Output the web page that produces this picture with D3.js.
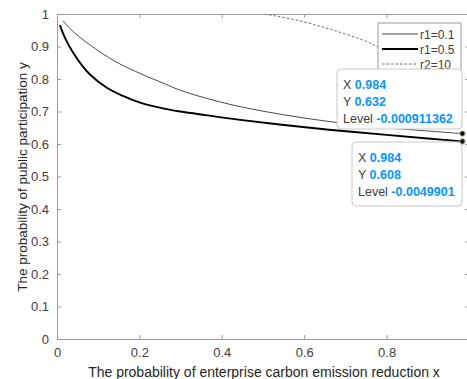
<!DOCTYPE html>
<html>
<head>
<meta charset="utf-8">
<script src="https://cdnjs.cloudflare.com/ajax/libs/d3/7.8.5/d3.min.js"></script>
<style>
	body { margin: 0; background: #fff; }
	text { font-family: "Liberation Sans", Arial, sans-serif; }
</style>
</head>
<body>
<div id="chart"></div>
<script>
'use strict';

// r1 = 0.1 (thin line)
var xR1a = [0.014, 0.04, 0.08, 0.14, 0.2, 0.26, 0.3, 0.4, 0.5, 0.6, 0.7, 0.8, 0.9, 0.984];
var yR1a = [0.979, 0.945, 0.905, 0.855, 0.818, 0.786, 0.765, 0.728, 0.701, 0.68, 0.663, 0.65, 0.64, 0.632];
// r1 = 0.5 (thick line)
var xR1b = [0.007, 0.02, 0.04, 0.06, 0.08, 0.12, 0.16, 0.2, 0.26, 0.3, 0.36, 0.44, 0.54, 0.66, 0.8, 0.9, 0.984];
var yR1b = [0.966, 0.925, 0.879, 0.843, 0.814, 0.774, 0.748, 0.728, 0.709, 0.7, 0.689, 0.675, 0.66, 0.644, 0.628, 0.617, 0.608];
// r2 = 10 (dashed)
var xR2 = [0.504, 0.589, 0.669, 0.752, 0.778, 0.85, 0.92];
var yR2 = [1.0, 0.979, 0.951, 0.915, 0.899, 0.86, 0.82];

var legendLabels = ['r1=0.1', 'r1=0.5', 'r2=10'];
var xTicks = [0, 0.2, 0.4, 0.6, 0.8];
var yTicks = [0, 0.1, 0.2, 0.3, 0.4, 0.5, 0.6, 0.7, 0.8, 0.9, 1];

// data tips: [x, y, level]
var tips = [
	{ x: 0.984, y: 0.632, level: '-0.000911362' },
	{ x: 0.984, y: 0.608, level: '-0.0049901' }
];

var W = 467, H = 379;
var margin = {top: 14, left: 57};
var pw = 412, ph = 325;
var axisCol = '#9a9a9a';
var textCol = '#404040';
var blue = '#0a94ff';

var svg = d3.select('#chart').append('svg')
	.attr('width', W)
	.attr('height', H);

var x = d3.scaleLinear().domain([0, 1]).range([0, pw]);
var y = d3.scaleLinear().domain([0, 1]).range([ph, 0]);

var g = svg.append('g')
	.attr('transform', 'translate(' + margin.left + ',' + margin.top + ')');

g.append('clipPath')
	.attr('id', 'plotClip')
	.append('rect')
	.attr('width', pw)
	.attr('height', ph);

// axes (box with inward ticks)
function styleAxis(sel, hideText){
	sel.select('.domain').attr('stroke', axisCol);
	sel.selectAll('.tick line').attr('stroke', axisCol);
	sel.selectAll('.tick text')
		.attr('fill', textCol)
		.style('font-size', '13px');
	if (hideText) sel.selectAll('.tick text').remove();
}

g.append('g')
	.attr('transform', 'translate(0,' + ph + ')')
	.call(d3.axisBottom(x).tickValues(xTicks).tickSizeInner(-4).tickSizeOuter(0).tickPadding(9).tickFormat(d3.format('~g')))
	.call(styleAxis);

g.append('g')
	.call(d3.axisTop(x).tickValues(xTicks).tickSizeInner(-4).tickSizeOuter(0))
	.call(styleAxis, true);

g.append('g')
	.call(d3.axisLeft(y).tickValues(yTicks).tickSizeInner(-4).tickSizeOuter(0).tickPadding(8).tickFormat(d3.format('~g')))
	.call(styleAxis);

g.append('g')
	.attr('transform', 'translate(' + pw + ',0)')
	.call(d3.axisRight(y).tickValues(yTicks).tickSizeInner(-4).tickSizeOuter(0))
	.call(styleAxis, true);

// axis labels
svg.append('text')
	.attr('x', 264)
	.attr('y', 377)
	.attr('text-anchor', 'middle')
	.attr('fill', '#262626')
	.style('font-size', '14px')
	.text('The probability of enterprise carbon emission reduction x');

svg.append('text')
	.attr('transform', 'translate(27,' + 177 + ') rotate(-90)')
	.attr('text-anchor', 'middle')
	.attr('fill', '#262626')
	.style('font-size', '13.5px')
	.text('The probability of public participation y');

// curves
var line = d3.line()
	.x(function(d){ return x(d[0]); })
	.y(function(d){ return y(d[1]); })
	.curve(d3.curveCatmullRom.alpha(0.5));

var series = [
	{ pts: d3.zip(xR1a, yR1a), stroke: '#4a4a4a', width: 1, dash: null },
	{ pts: d3.zip(xR1b, yR1b), stroke: '#000', width: 1.9, dash: null },
	{ pts: d3.zip(xR2, yR2), stroke: '#6a6a6a', width: 1, dash: '2.5,2' }
];

var plot = g.append('g').attr('clip-path', 'url(#plotClip)');

plot.selectAll('path.curve')
	.data(series)
	.enter()
	.append('path')
		.attr('class', 'curve')
		.attr('fill', 'none')
		.attr('stroke', function(d){ return d.stroke; })
		.attr('stroke-width', function(d){ return d.width; })
		.attr('stroke-dasharray', function(d){ return d.dash; })
		.attr('d', function(d){ return line(d.pts); });

// legend
var lg = svg.append('g').attr('transform', 'translate(378,23)');
lg.append('rect')
	.attr('width', 83)
	.attr('height', 50)
	.attr('fill', '#fff')
	.attr('stroke', axisCol)
	.attr('stroke-width', 1);

var items = lg.selectAll('g.item')
	.data(series)
	.enter()
	.append('g')
		.attr('class', 'item')
		.attr('transform', function(d, i){ return 'translate(0,' + (11 + i*15) + ')'; });

items.append('line')
	.attr('x1', 4)
	.attr('x2', 40)
	.attr('stroke', function(d){ return d.stroke; })
	.attr('stroke-width', function(d){ return d.width; })
	.attr('stroke-dasharray', function(d){ return d.dash; });

items.append('text')
	.attr('x', 42)
	.attr('y', 4.5)
	.attr('fill', textCol)
	.style('font-size', '12px')
	.text(function(d, i){ return legendLabels[i]; });

// data tip boxes
var boxes = [
	{ x: 337, y: 69, w: 125, h: 60 },
	{ x: 352, y: 142, w: 110, h: 64 }
];

tips.forEach(function(t, i){
	var b = boxes[i];
	var tg = svg.append('g').attr('transform', 'translate(' + b.x + ',' + b.y + ')');
	tg.append('rect')
		.attr('width', b.w)
		.attr('height', b.h)
		.attr('rx', 4)
		.attr('fill', '#fff')
		.attr('fill-opacity', 0.96)
		.attr('stroke', '#c8c8c8');
	var rows = [['X', d3.format('.3f')(t.x)], ['Y', d3.format('.3f')(t.y)], ['Level', t.level]];
	rows.forEach(function(r, k){
		var txt = tg.append('text')
			.attr('x', 6)
			.attr('y', 20 + k*17)
			.style('font-size', '12.5px');
		txt.append('tspan').attr('fill', textCol).text(r[0] + ' ');
		txt.append('tspan').attr('fill', blue).attr('font-weight', 'bold').text(r[1]);
	});
});

// data tip markers
svg.selectAll('circle.tip')
	.data(tips)
	.enter()
	.append('circle')
		.attr('class', 'tip')
		.attr('cx', function(d){ return margin.left + x(d.x); })
		.attr('cy', function(d){ return margin.top + y(d.y); })
		.attr('r', 2.8)
		.attr('fill', '#111')
		.attr('stroke', '#f4f0c0')
		.attr('stroke-width', 0.8);
</script>
</body>
</html>
